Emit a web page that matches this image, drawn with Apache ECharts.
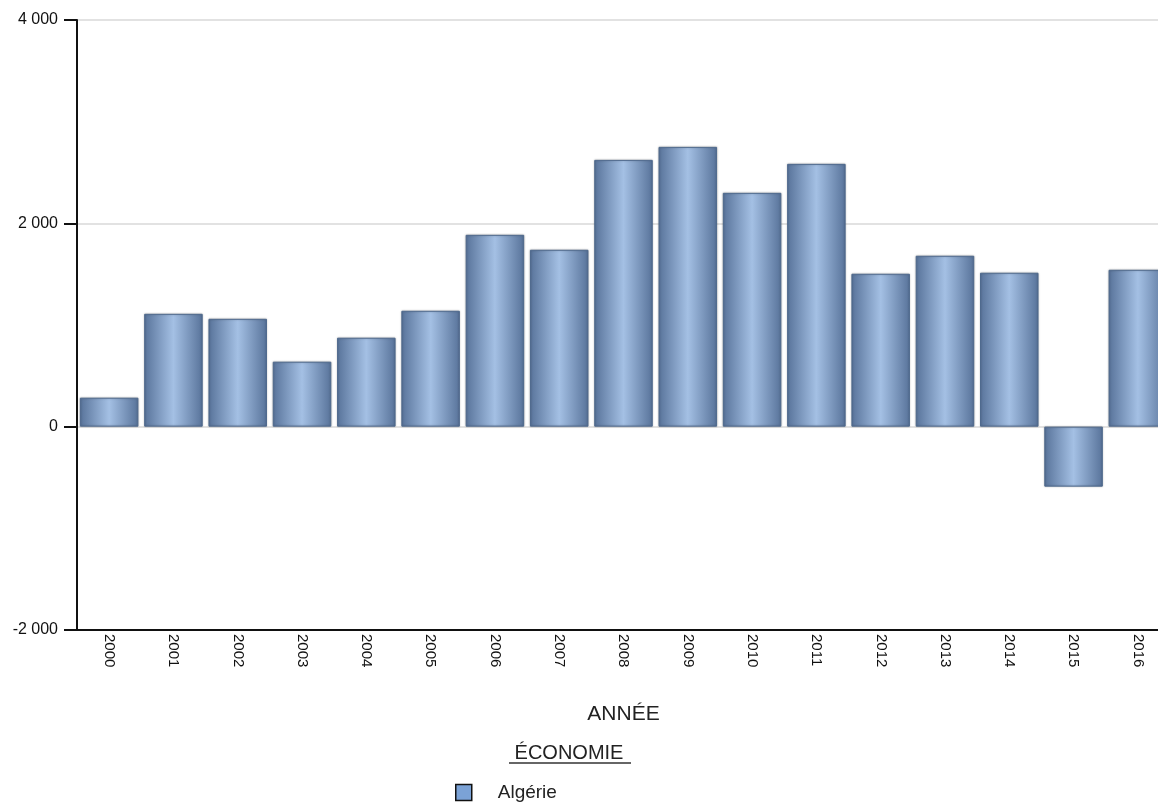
<!DOCTYPE html>
<html>
<head>
<meta charset="utf-8">
<script src="https://cdn.jsdelivr.net/npm/echarts@6/dist/echarts.min.js"></script>
<style>
  html, body { margin: 0; padding: 0; background: #fff; }
  #chart { width: 1158px; height: 802px; }
</style>
</head>
<body>
<div id="chart"></div>
<script>
const years = ["2000", "2001", "2002", "2003", "2004", "2005", "2006", "2007", "2008",
  "2009", "2010", "2011", "2012", "2013", "2014", "2015", "2016"];
const algerie = [285, 1110, 1061, 639, 875, 1140, 1887, 1740, 2624,
  2752, 2300, 2585, 1504, 1681, 1514, -590, 1543];
const yTicks = { min: -2000, max: 4000, interval: 2000 };

const font = "'Liberation Sans', Arial, sans-serif";

// Format 4000 -> "4 000"
const fmt = (v) => {
  const s = Math.abs(v).toString().replace(/\B(?=(\d{3})+(?!\d))/g, " ");
  return (v < 0 ? "-" : "") + s;
};

const barFill = new echarts.graphic.LinearGradient(0, 0, 1, 0, [
  { offset: 0, color: "#58739a" },
  { offset: 0.5, color: "#a4c0e4" },
  { offset: 1, color: "#58739a" },
]);

const chart = echarts.init(document.getElementById("chart"));
chart.setOption({
  backgroundColor: "#fff",
  animation: false,
  textStyle: { fontFamily: font },
  grid: { left: 77, top: 20, bottom: 172, width: 1093, outerBoundsMode: "none", containLabel: false },
  title: {
    text: "ÉCONOMIE",
    left: 564,
    top: 738,
    textAlign: "center",
    textStyle: { fontFamily: font, fontSize: 20, fontWeight: "normal", color: "#222" },
  },
  graphic: [
    { type: "line", shape: { x1: 509, y1: 763, x2: 631, y2: 763 }, style: { stroke: "#333", lineWidth: 1.5 } },
  ],
  legend: {
    data: ["Algérie"],
    left: 455,
    top: 783,
    padding: 0,
    icon: "rect",
    itemWidth: 16,
    itemHeight: 16,
    itemStyle: { color: "#7ba2d6", borderColor: "#111", borderWidth: 1.5 },
    textStyle: { fontFamily: font, fontSize: 19, color: "#222", padding: [0, 0, 0, 21] },
  },
  xAxis: {
    type: "category",
    data: years,
    name: "ANNÉE",
    nameLocation: "middle",
    nameGap: 74,
    nameTextStyle: { fontFamily: font, fontSize: 21, color: "#222" },
    axisLine: { onZero: false, lineStyle: { color: "#111", width: 2 } },
    axisTick: { show: false },
    axisLabel: { rotate: -90, interval: 0, fontSize: 15, color: "#111", margin: 4 },
  },
  yAxis: {
    type: "value",
    min: yTicks.min,
    max: yTicks.max,
    interval: yTicks.interval,
    axisLine: { show: true, lineStyle: { color: "#111", width: 2 } },
    axisTick: { show: true, length: 13, lineStyle: { color: "#111", width: 2 } },
    axisLabel: { fontSize: 16, color: "#111", margin: 19, formatter: fmt },
    splitLine: { show: true, lineStyle: { color: "#d9d9d9", width: 1.5 } },
  },
  series: [
    {
      name: "Algérie",
      type: "bar",
      data: algerie,
      barCategoryGap: "9%",
      itemStyle: {
        color: barFill,
        borderColor: "#4f6a8e",
        borderWidth: 1,
        shadowColor: "rgba(0,0,0,0.25)",
        shadowBlur: 2,
      },
    },
  ],
});
</script>
</body>
</html>
